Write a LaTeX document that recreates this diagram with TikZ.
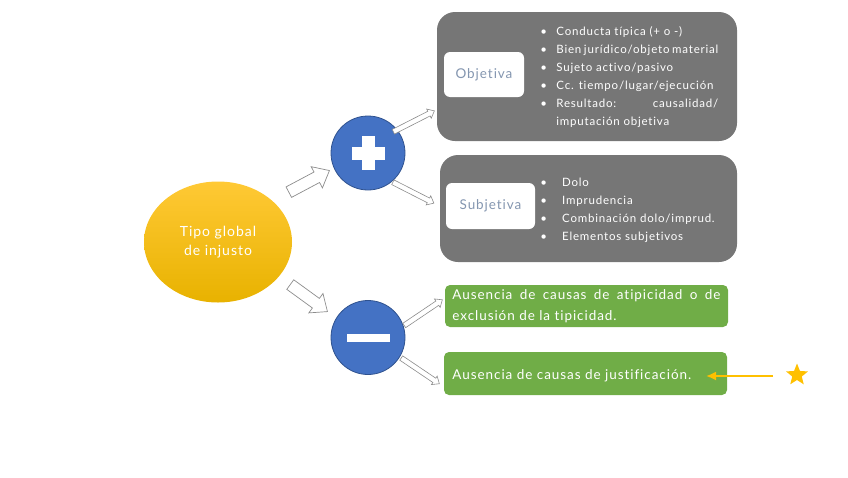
\documentclass[tikz,border=0pt]{standalone}
\usepackage{fontspec}
\setmainfont{Lato}[LetterSpace=7,Ligatures=NoCommon]
\usetikzlibrary{shapes.geometric,shapes.arrows,calc,arrows.meta}

\definecolor{gold}{HTML}{FFC000}
\definecolor{golddark}{HTML}{E8B200}
\definecolor{goldlight}{HTML}{FFC935}
\definecolor{circblue}{HTML}{4472C4}
\definecolor{circedge}{HTML}{2F528F}
\definecolor{boxgray}{HTML}{767676}
\definecolor{boxgreen}{HTML}{70AD47}
\definecolor{labelblue}{HTML}{8496B0}

\tikzset{
  graybox/.style={fill=boxgray,rounded corners=18pt,inner sep=0pt},
  whitebox/.style={fill=white,rounded corners=6pt,inner sep=0pt,
    font=\fontsize{13.5}{15}\selectfont,text=labelblue},
  greenbox/.style={fill=boxgreen,rounded corners=5pt,inner sep=0pt,
    minimum width=283pt},
  greentext/.style={text=white,inner sep=0pt,text width=268pt,align=justify,
    font=\fontsize{13.5}{21}\selectfont},
  listtext/.style={text=white,inner sep=0pt,align=justify,
    font=\fontsize{11.5}{18}\selectfont},
  signcirc/.style={circle,fill=circblue,draw=circedge,line width=0.8pt,
    minimum size=74pt,inner sep=0pt},
  bigarrow/.style={single arrow,draw=black!45,fill=white,line width=0.7pt,
    minimum height=46pt,minimum width=24pt,single arrow head extend=6pt,
    single arrow tip angle=80,inner xsep=0pt,inner ysep=5.5pt},
  thinarrow/.style={single arrow,draw=black!45,fill=white,line width=0.6pt,
    minimum height=46pt,minimum width=10pt,single arrow head extend=2.5pt,
    single arrow tip angle=80,inner xsep=0pt,inner ysep=2.3pt}
}

\newcommand\bitem[1][16pt]{\par\hangindent=#1\hangafter=1\noindent
  \makebox[#1][l]{\textbullet}}

\begin{document}
\begin{tikzpicture}[x=1pt,y=-1pt,>=latex,thick]

\useasboundingbox (0,0) rectangle (848,477);

% main ellipse
\node[ellipse,minimum width=148pt,minimum height=121pt,inner sep=0pt,
  top color=goldlight,bottom color=golddark,text=white,align=center,
  font=\fontsize{14}{19}\selectfont] (tipo) at (218,242) {Tipo global\\de injusto};

% plus and minus
\node[signcirc] (plus) at (368,153) {};
\node[signcirc] (minus) at (368,337.5) {};
\fill[white] ($(plus)+(-16.5,-6.5)$) rectangle ($(plus)+(16.5,6.5)$);
\fill[white] ($(plus)+(-6.5,-17)$) rectangle ($(plus)+(6.5,17)$);
\fill[white] ($(minus)+(-21.5,-4)$) rectangle ($(minus)+(21.5,4)$);

% gray boxes
\node[graybox,minimum width=300pt,minimum height=129pt] (objbox) at (587,76.5) {};
\node[graybox,minimum width=297pt,minimum height=107pt] (subbox) at (588.5,208.5) {};
\node[whitebox,minimum width=80pt,minimum height=45pt] (obj) at (484,74.5) {Objetiva};
\node[whitebox,minimum width=89pt,minimum height=46pt] (sub) at (490.5,206) {Subjetiva};

\node[listtext,text width=178pt,anchor=west] (objlist) at (540,73) {%
\bitem Conducta típica (+ o -)
\bitem Bien jurídico/objeto material
\bitem Sujeto activo/pasivo
\bitem Cc. tiempo/lugar/ejecución
\bitem Resultado: causalidad/\linebreak imputación objetiva\par};

\node[listtext,text width=178pt,anchor=west] (sublist) at (540,206) {%
\bitem[18pt] Dolo
\bitem[18pt] Imprudencia
\bitem[18pt] Combinación dolo/imprud.
\bitem[18pt] Elementos subjetivos\par};

% green boxes
\node[greenbox,minimum height=42pt] (atip) at (586.5,306) {};
\node[greentext,anchor=west] (atiptext) at (452,306)
  {Ausencia de causas de atipicidad o de\linebreak exclusión de la tipicidad.};
\node[greenbox,minimum height=43pt] (just) at (585.5,373.5) {};
\node[greentext,anchor=west] (justtext) at (452,375.5)
  {Ausencia de causas de justificación.};

% block arrows
\node[bigarrow,rotate=28] (a1) at (306,183) {};
\node[bigarrow,rotate=-36] (a2) at (306,296) {};
\node[thinarrow,rotate=27] (a3) at (412.5,122) {};
\node[thinarrow,rotate=-27] (a4) at (412,192) {};
\node[thinarrow,rotate=34] (a5) at (422,313.5) {};
\node[thinarrow,rotate=-34] (a6) at (419,370) {};

% star and pointer
\node[star,star points=5,star point ratio=2.3,fill=gold,minimum size=23pt,
  inner sep=0pt] (mark) at (797,375) {};
\coordinate (markend) at (773,376);
\coordinate (justend) at (706,376);
\draw[-{Latex[length=10pt,width=9pt]},gold,line width=1.8pt] (markend) -- (justend);

\end{tikzpicture}
\end{document}
